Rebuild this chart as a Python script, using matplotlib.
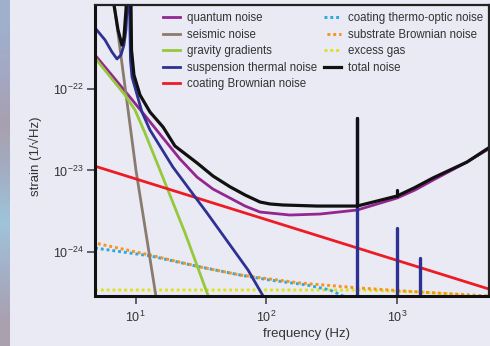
import numpy as np
import matplotlib as mpl
mpl.use('Agg')
from matplotlib import pyplot as plt
from matplotlib.colors import to_rgb
import matplotlib.ticker as mt

plt.rcParams['font.family'] = ['Liberation Sans', 'DejaVu Sans']

# noise curves (frequency in Hz, strain in 1/sqrt(Hz))
quantum_f = [4.88, 6.35, 9.04, 12.2, 16.2, 21.8, 29.5, 39.1, 52.8, 68.9, 89.7, 152, 258, 497,
             1005, 1380, 1896, 3450, 5190]
quantum_h = [2.64e-22, 1.59e-22, 8.0e-23, 4.43e-23, 2.51e-23, 1.39e-23, 8.3e-24, 5.91e-24, 4.58e-24,
             3.65e-24, 3.08e-24, 2.83e-24, 2.91e-24, 3.26e-24, 4.58e-24, 5.75e-24, 7.6e-24,
             1.27e-23, 1.89e-23]

seismic_f = [6.7, 10.05, 14.7]
seismic_h = [1.45e-21, 1.01e-23, 2.14e-25]

gravity_f = [4.88, 8.28, 9.88, 11.78, 15.35, 23.9, 38.4]
gravity_h = [2.43e-22, 8.5e-23, 5.56e-23, 2.90e-23, 1.01e-23, 1.70e-24, 2.14e-25]

susp_f = [4.88, 5.82, 6.58, 7.19, 7.71, 8.13, 8.43, 8.66, 8.81, 8.96, 9.12, 9.37, 11.17, 12.87,
          19.3, 35.2, 72.6, 94.6, 107]
susp_h = [5.7e-22, 4.05e-22, 2.88e-22, 2.36e-22, 2.64e-22, 3.5e-22, 5.4e-22, 1.26e-21, 2.94e-21,
          1.26e-21, 2.30e-22, 1.42e-22, 5.25e-23, 3.15e-23, 1.10e-23, 3.0e-24, 5.95e-25, 2.85e-25, 2.14e-25]
# violin mode peaks of the suspension
susp_spike_f = [500, 1000, 1500]
susp_spike_h = [4.43e-23, 1.96e-24, 8.4e-25]

coating_f = [4.88, 5090]
coating_h = [1.13e-23, 3.47e-25]

thermo_f = [4.88, 12.87, 31.1, 63.0, 107, 206, 308, 402]
thermo_h = [1.11e-24, 8.9e-25, 6.5e-25, 5.17e-25, 4.48e-25, 3.89e-25, 3.38e-25, 2.77e-25]

substrate_f = [4.88, 12.87, 31.1, 63.0, 181.5, 524, 1507, 5090]
substrate_h = [1.28e-24, 9.1e-25, 6.5e-25, 5.17e-25, 4.12e-25, 3.57e-25, 3.19e-25, 2.85e-25]

gas_f = [4.88, 524, 1507, 2560, 5090]
gas_h = [3.38e-25, 3.38e-25, 3.19e-25, 3.01e-25, 2.69e-25]

total_f = [6.64, 6.82, 7.32, 7.85, 8.13, 8.43, 8.58, 8.89, 9.21, 9.29, 9.70, 10.79, 12.87, 16.2,
           20.0, 29.5, 39.1, 52.8, 68.9, 89.7, 107, 134.6, 245, 497, 1005, 1380, 1896, 3450, 5190]
total_h = [1.67e-21, 1.09e-21, 5.4e-22, 3.5e-22, 4.3e-22, 9.5e-22, 1.67e-21, 2.94e-21, 1.09e-21,
           3.05e-22, 1.50e-22, 8.5e-23, 5.25e-23, 3.43e-23, 2.0e-23, 1.24e-23, 8.55e-24, 6.3e-24,
           4.99e-24, 4.09e-24, 3.87e-24, 3.76e-24, 3.65e-24, 3.65e-24, 4.85e-24, 6.18e-24, 8.1e-24,
           1.27e-23, 1.95e-23]
total_spike_f = [500, 1000]
total_spike_lo = [3.65e-24, 4.85e-24]
total_spike_h = [4.43e-23, 5.75e-24]

x_ticks = [10, 100, 1000]
y_ticks = [1e-24, 1e-23, 1e-22]

bg = '#e9eaf4'
txt = '#333333'

fig = plt.figure(figsize=(4.9, 3.46), dpi=100, facecolor=bg)

# bluish strip down the left edge
strip_cols = ['#9fb0cc', '#a4a8c4', '#a8a0ae', '#a2aec4', '#9ec4da', '#a4b0c8', '#aaa0b0']
sax = fig.add_axes([0, 0, 9 / 490, 1])
sax.imshow(np.array([to_rgb(c) for c in strip_cols])[:, None, :], aspect='auto',
           interpolation='bilinear', extent=(0, 1, 0, 1))
sax.axis('off')

ax = fig.add_axes([95 / 490, 50 / 346, 394 / 490, 291 / 346])
ax.set_facecolor(bg)
ax.set_xscale('log')
ax.set_yscale('log')

dot = 2.1
ax.plot(gas_f, gas_h, color='#dde21e', lw=dot, ls=(0, (1, 1)), label='excess gas')
ax.plot(thermo_f, thermo_h, color='#29abe2', lw=dot, ls=(0, (1, 1)), label='coating thermo-optic noise')
ax.plot(substrate_f, substrate_h, color='#f7941d', lw=dot, ls=(1, (1, 1)), label='substrate Brownian noise')

lw = 2.0
ax.plot(quantum_f, quantum_h, color='#93278f', lw=lw, label='quantum noise')
ax.plot(seismic_f, seismic_h, color='#8b7b6e', lw=lw, label='seismic noise')
ax.plot(gravity_f, gravity_h, color='#95c83a', lw=lw, label='gravity gradients')
ax.plot(coating_f, coating_h, color='#ed1c24', lw=lw, label='coating Brownian noise')
ax.plot(susp_f, susp_h, color='#2e3192', lw=lw, label='suspension thermal noise')
ax.vlines(susp_spike_f, 1e-26, susp_spike_h, color='#2e3192', lw=2.4, capstyle='round')
ax.plot(total_f, total_h, color='#111111', lw=2.3, label='total noise')
ax.vlines(total_spike_f, total_spike_lo, total_spike_h, color='#111111', lw=2.3, capstyle='round')

ax.set_xlim(4.88, 5090)
ax.set_ylim(2.85e-25, 1.09e-21)

ax.xaxis.set_major_locator(mt.FixedLocator(x_ticks))
ax.yaxis.set_major_locator(mt.FixedLocator(y_ticks))
ax.xaxis.set_major_formatter(mt.LogFormatterSciNotation())
ax.yaxis.set_major_formatter(mt.LogFormatterSciNotation())
ax.minorticks_off()
ax.tick_params(axis='both', length=6, width=1.3, color='#555555', labelsize=9,
               labelcolor=txt)
ax.tick_params(axis='y', pad=2)
ax.tick_params(axis='x', pad=4)

for side in ['left', 'bottom']:
    ax.spines[side].set_linewidth(2.2)
    ax.spines[side].set_color('#111111')
for side in ['top', 'right']:
    ax.spines[side].set_linewidth(1.6)
    ax.spines[side].set_color('#222222')

ax.set_xlabel('frequency (Hz)', fontsize=9.5, color=txt, va='center')
ax.xaxis.set_label_coords(0.538, -0.1306)
ax.set_ylabel('strain (1/\u221aHz)', fontsize=9.5, color=txt, va='center')
ax.yaxis.set_label_coords(-0.152, 0.48)

# legend in two columns, placed separately
lines = {l.get_label(): l for l in ax.get_lines()}
col1 = ['quantum noise', 'seismic noise', 'gravity gradients', 'suspension thermal noise',
        'coating Brownian noise']
col2 = ['coating thermo-optic noise', 'substrate Brownian noise', 'excess gas', 'total noise']
leg_kw = dict(frameon=False, fontsize=8.3, borderpad=0, borderaxespad=0, handlelength=1.5,
              handletextpad=0.55, labelspacing=0.4, loc='upper left',
              bbox_transform=fig.transFigure, labelcolor=txt)
leg1 = ax.legend([lines[k] for k in col1], col1, bbox_to_anchor=(163 / 490, 1 - 12 / 346), **leg_kw)
ax.add_artist(leg1)
ax.legend([lines[k] for k in col2], col2, bbox_to_anchor=(324 / 490, 1 - 12 / 346), **leg_kw)

plt.savefig('out.png', dpi=100, facecolor=bg)
